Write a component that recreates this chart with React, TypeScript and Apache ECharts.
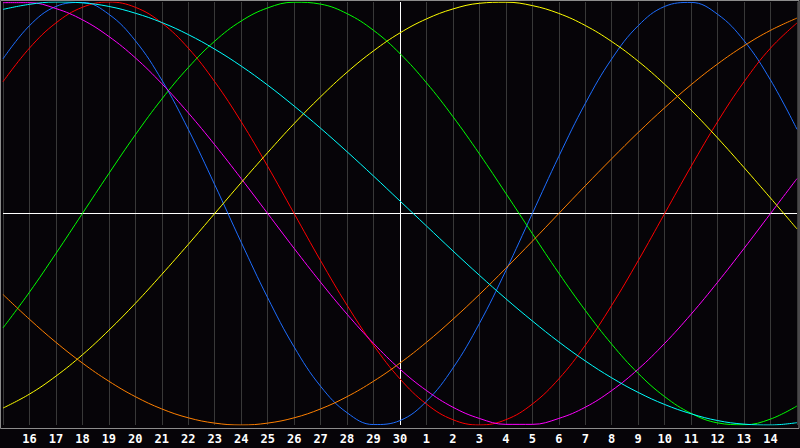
import React, { useEffect, useRef } from "react";
import * as echarts from "echarts";

const days = ["15","16","17","18","19","20","21","22","23","24","25","26","27","28","29","30","1","2","3","4","5","6","7","8","9","10","11","12","13","14","15"];

const blue = [0.731,0.888,0.979,0.998,0.942,0.817,0.631,0.398,0.136,-0.136,-0.398,-0.631,-0.817,-0.942,-0.998,-0.979,-0.888,-0.731,-0.520,-0.270,0.000,0.270,0.520,0.731,0.888,0.979,0.998,0.942,0.817,0.631,0.398];
const red = [0.623,0.782,0.901,0.975,1.000,0.975,0.901,0.782,0.623,0.434,0.223,0,-0.223,-0.434,-0.623,-0.782,-0.901,-0.975,-1.000,-0.975,-0.901,-0.782,-0.623,-0.434,-0.223,0,0.223,0.434,0.623,0.782,0.901];
const green = [-0.541,-0.372,-0.189,0.000,0.189,0.372,0.541,0.690,0.815,0.910,0.972,0.999,0.990,0.945,0.866,0.756,0.618,0.458,0.282,0.095,-0.095,-0.282,-0.458,-0.618,-0.756,-0.866,-0.945,-0.990,-0.999,-0.972,-0.910];
const magenta = [0.997,0.997,0.969,0.916,0.837,0.736,0.614,0.476,0.325,0.165,0,-0.165,-0.325,-0.476,-0.614,-0.736,-0.837,-0.916,-0.969,-0.997,-0.997,-0.969,-0.916,-0.837,-0.736,-0.614,-0.476,-0.325,-0.165,0,0.165];
const yellow = [-0.920,-0.854,-0.769,-0.668,-0.552,-0.425,-0.288,-0.146,0.000,0.146,0.288,0.425,0.552,0.668,0.769,0.854,0.920,0.967,0.994,0.999,0.983,0.946,0.889,0.813,0.720,0.611,0.489,0.357,0.217,0.073,-0.073];
const orange = [-0.383,-0.500,-0.609,-0.707,-0.793,-0.866,-0.924,-0.966,-0.991,-1.000,-0.991,-0.966,-0.924,-0.866,-0.793,-0.707,-0.609,-0.500,-0.383,-0.259,-0.131,0,0.131,0.259,0.383,0.500,0.609,0.707,0.793,0.866,0.924];
const cyan = [0.965,0.989,1.000,0.996,0.979,0.947,0.903,0.846,0.777,0.697,0.607,0.508,0.403,0.292,0.177,0.059,-0.059,-0.177,-0.292,-0.403,-0.508,-0.607,-0.697,-0.777,-0.846,-0.903,-0.947,-0.979,-0.996,-1.000,-0.989];

const seriesDefs = [
  { name: "blue", data: blue, color: "#1e6eff" },
  { name: "red", data: red, color: "#ff0000" },
  { name: "green", data: green, color: "#00ff00" },
  { name: "magenta", data: magenta, color: "#ff00ff" },
  { name: "yellow", data: yellow, color: "#ffff00" },
  { name: "orange", data: orange, color: "#ff8000" },
  { name: "cyan", data: cyan, color: "#00ffff" },
];

export default function App() {
  const ref = useRef<HTMLDivElement>(null);
  useEffect(() => {
    if (!ref.current) return;
    const chart = echarts.init(ref.current, null, { renderer: "svg" });
    const series: any[] = seriesDefs.map((s, idx) => ({
      name: s.name,
      type: "line",
      data: s.data,
      smooth: 0.4,
      symbol: "none",
      lineStyle: { color: s.color, width: 1 },
      itemStyle: { color: s.color },
      z: 3,
      ...(idx === 0
        ? {
            markLine: {
              silent: true,
              symbol: "none",
              label: { show: false },
              lineStyle: { color: "#ffffff", width: 1, type: "solid" },
              data: [{ xAxis: "30" }, { yAxis: 0 }],
              z: 2,
            },
          }
        : {}),
    }));
    chart.setOption({
      animation: false,
      backgroundColor: "#060408",
      grid: { left: 0, right: 0, top: 2, bottom: 23, containLabel: false },
      xAxis: {
        type: "category",
        data: days,
        boundaryGap: false,
        axisLine: { show: false },
        axisTick: { show: false },
        axisLabel: {
          interval: 0,
          margin: 8,
          color: "#ffffff",
          fontFamily: "DejaVu Sans Mono",
          fontWeight: "bold",
          fontSize: 12,
          formatter: (v: string, i: number) => (i === 0 || i === days.length - 1 ? "" : v),
        },
        splitLine: { show: true, lineStyle: { color: "#383838", width: 1 } },
      },
      yAxis: {
        type: "value",
        min: -1,
        max: 1,
        show: false,
        splitLine: { show: false },
      },
      graphic: [
        {
          type: "rect",
          shape: { x: 0.5, y: 0.5, width: 798.5, height: 428 },
          style: { fill: "none", stroke: "#8c8c8c", lineWidth: 1 },
          z: 10,
          silent: true,
        },
      ],
      series,
    });
    return () => chart.dispose();
  }, []);
  return <div ref={ref} style={{ width: 800, height: 448, position: "absolute", left: 0, top: 0 }} />;
}
